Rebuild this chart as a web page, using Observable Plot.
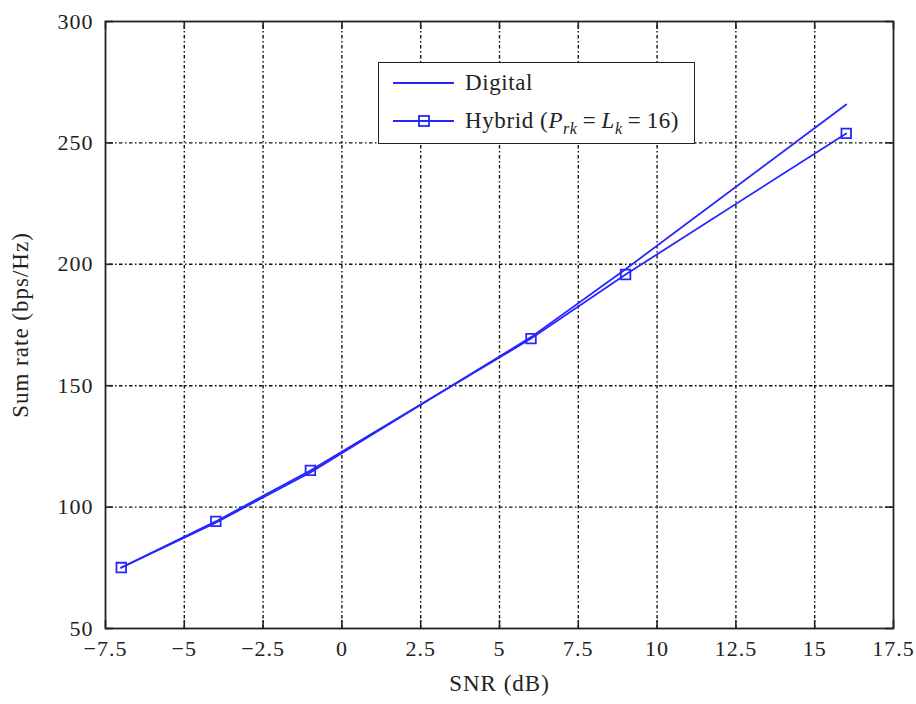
<!DOCTYPE html>
<html>
<head>
<meta charset="utf-8">
<script src="https://cdn.jsdelivr.net/npm/d3@7"></script>
<script src="https://cdn.jsdelivr.net/npm/@observablehq/plot@0.6"></script>
<style>
  html, body { margin: 0; padding: 0; background: #fff; }
  #wrap { position: relative; width: 916px; height: 704px; }
  #legend {
    position: absolute; left: 378px; top: 62px; width: 317px; height: 82px;
    border: 1.6px solid #222; background: #fff; box-sizing: border-box;
    font-family: "Times New Roman", "Liberation Serif", Tinos, Times, serif; font-size: 23px; color: #222;
  }
  #legend .row { position: absolute; left: 0; height: 30px; display: flex; align-items: center; }
  #legend svg { display: block; }
  #legend .lbl { letter-spacing: 0.6px; white-space: nowrap; }
  #legend i { font-style: italic; }
  #legend sub { font-size: 16px; vertical-align: -6px; line-height: 0; }
</style>
</head>
<body>
<div id="wrap">
  <div id="chart"></div>
  <div id="legend">
    <div class="row" style="top:5px;">
      <svg width="86" height="30"><line x1="14" x2="75" y1="15" y2="15" stroke="#2626ff" stroke-width="1.8"/></svg>
      <span class="lbl">Digital</span>
    </div>
    <div class="row" style="top:43px;">
      <svg width="86" height="30"><line x1="14" x2="75" y1="15" y2="15" stroke="#2626ff" stroke-width="1.8"/><rect x="40" y="10" width="10" height="10" fill="none" stroke="#2626ff" stroke-width="1.8"/></svg>
      <span class="lbl">Hybrid (<i>P</i><sub><i>rk</i></sub>&#8201;=&#8201;<i>L</i><sub><i>k</i></sub>&#8201;=&#8201;16)</span>
    </div>
  </div>
</div>
<script>
const snr = [-7, -4, -1, 6, 9, 16];
const digitalRate = [75.0, 93.6, 114.3, 170.0, 198.0, 265.8];
const hybridRate = [75.1, 94.1, 115.1, 169.4, 195.8, 253.9];
const xTicks = [-7.5, -5, -2.5, 0, 2.5, 5, 7.5, 10, 12.5, 15, 17.5];
const yTicks = [50, 100, 150, 200, 250, 300];
const xGrid = [-5, -2.5, 0, 2.5, 5, 7.5, 10, 12.5, 15];
const yGrid = [100, 150, 200, 250];

const digital = snr.map((x, i) => ({x, y: digitalRate[i]}));
const hybrid = snr.map((x, i) => ({x, y: hybridRate[i]}));

const blue = "#2626ff";
const W = 916, H = 704, mL = 105, mR = 23, mT = 21, mB = 76;
const pw = W - mL - mR, ph = H - mT - mB, tk = 8;
const dash = "1.5,2.5,3.5,2.5";
const fmt = d => (d < 0 ? "\u2212" : "") + Math.abs(d);
const font = "'Times New Roman', 'Liberation Serif', Tinos, Times, serif";

const chart = Plot.plot({
  width: W, height: H,
  marginLeft: mL, marginRight: mR, marginTop: mT, marginBottom: mB,
  style: {fontFamily: font, fontSize: "22px", color: "#222", background: "#fff", letterSpacing: "1px"},
  x: {domain: [-7.5, 17.5]},
  y: {domain: [50, 300]},
  marks: [
    Plot.ruleX(xGrid, {stroke: "#111", strokeWidth: 1.4, strokeDasharray: dash}),
    Plot.ruleY(yGrid, {stroke: "#111", strokeWidth: 1.4, strokeDasharray: dash}),
    Plot.tickX(xTicks, {x: d => d, insetTop: ph - tk, stroke: "#222", strokeWidth: 1.6}),
    Plot.tickX(xTicks, {x: d => d, insetBottom: ph - tk, stroke: "#222", strokeWidth: 1.6}),
    Plot.tickY(yTicks, {y: d => d, insetRight: pw - tk, stroke: "#222", strokeWidth: 1.6}),
    Plot.tickY(yTicks, {y: d => d, insetLeft: pw - tk, stroke: "#222", strokeWidth: 1.6}),
    Plot.frame({stroke: "#222", strokeWidth: 1.8}),
    Plot.line(digital, {x: "x", y: "y", stroke: blue, strokeWidth: 1.8}),
    Plot.line(hybrid, {x: "x", y: "y", stroke: blue, strokeWidth: 1.8}),
    Plot.dot(hybrid, {x: "x", y: "y", symbol: "square", r: 5.4, stroke: blue, strokeWidth: 1.8, fill: "none"}),
    Plot.axisX(xTicks, {tickSize: 0, tickPadding: 12, tickFormat: fmt, label: null, fill: "#222"}),
    Plot.axisY(yTicks, {tickSize: 0, tickPadding: 12, tickFormat: fmt, label: null, fill: "#222"}),
    Plot.text(["SNR (dB)"], {frameAnchor: "bottom", dy: 62, text: d => d, fontSize: 23, fill: "#222", lineAnchor: "bottom", textAnchor: "middle", letterSpacing: 2.5}),
    Plot.text(["Sum rate (bps/Hz)"], {frameAnchor: "left", dx: -85, rotate: -90, text: d => d, fontSize: 23, fill: "#222", lineAnchor: "middle", textAnchor: "middle", letterSpacing: 2})
  ]
});
document.getElementById("chart").appendChild(chart);
</script>
</body>
</html>
